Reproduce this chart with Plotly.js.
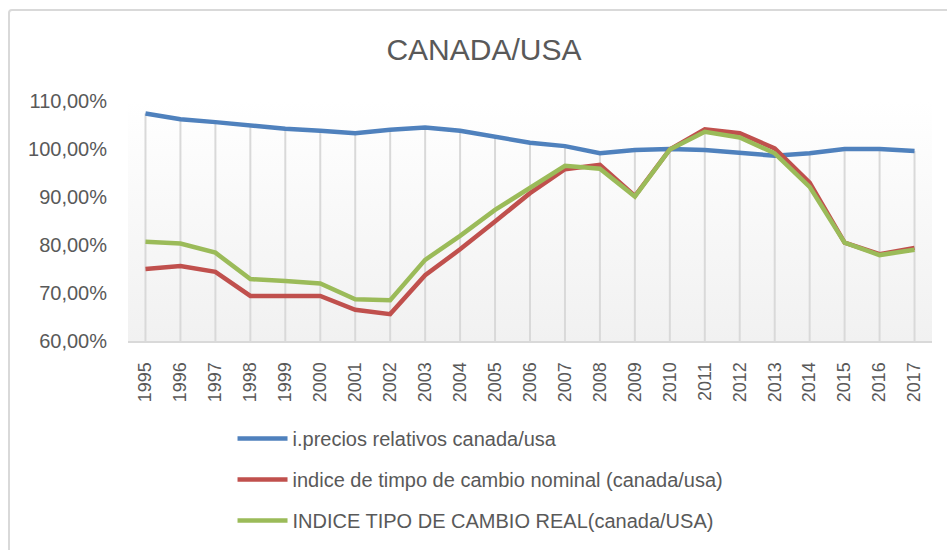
<!DOCTYPE html>
<html>
<head>
<meta charset="utf-8">
<script src="https://cdn.plot.ly/plotly-3.0.1.min.js"></script>
<style>
  html, body { margin: 0; padding: 0; background: #ffffff; width: 947px; height: 550px; overflow: hidden; }
  #frame { position: absolute; left: 8px; top: 9px; width: 1000px; height: 600px; border: 2px solid #d9d9d9; border-radius: 4px; box-sizing: border-box; }
  #plotbg { position: absolute; left: 128px; top: 101px; width: 804px; height: 240px; background: linear-gradient(to bottom, #ffffff 0%, #f1f1f1 100%); }
  #chart { position: absolute; left: 0; top: 0; width: 947px; height: 600px; }
</style>
</head>
<body>
<div id="frame"></div>
<div id="plotbg"></div>
<div id="chart"></div>
<script>
const years = ["1995","1996","1997","1998","1999","2000","2001","2002","2003","2004","2005","2006","2007","2008","2009","2010","2011","2012","2013","2014","2015","2016","2017"];
const preciosRelativos = [107.4,106.2,105.6,104.8,104.2,103.8,103.3,104.0,104.5,103.8,102.6,101.3,100.6,99.1,99.8,100.0,99.8,99.3,98.6,99.1,100.0,100.0,99.6];
const cambioNominal = [75.0,75.6,74.4,69.4,69.4,69.4,66.5,65.6,73.7,79.1,84.9,90.8,95.8,96.7,90.2,99.9,104.1,103.3,100.1,93.0,80.5,78.1,79.4];
const cambioReal = [80.7,80.3,78.4,72.9,72.5,72.0,68.7,68.5,76.9,81.9,87.3,91.8,96.5,95.9,90.1,99.9,103.6,102.4,99.1,92.1,80.5,77.9,79.0];
const seriesNames = ["i.precios relativos canada/usa","indice de timpo de cambio nominal (canada/usa)","INDICE TIPO DE CAMBIO REAL(canada/USA)"];
const yTickVals = [60,70,80,90,100,110];
const yTickText = ["60,00%","70,00%","80,00%","90,00%","100,00%","110,00%"];

// drop lines: from highest series value down to the axis minimum
const dropX = [], dropY = [];
years.forEach((yr, i) => {
  const top = Math.max(preciosRelativos[i], cambioNominal[i], cambioReal[i]);
  dropX.push(yr, yr, null);
  dropY.push(yTickVals[0], top, null);
});

const textColor = "#595959";
const font = "Liberation Sans, Arial, sans-serif";

const traces = [
  { x: dropX, y: dropY, type: "scatter", mode: "lines", line: { color: "#d9d9d9", width: 2 }, showlegend: false, hoverinfo: "skip" },
  { x: years, y: preciosRelativos, name: seriesNames[0], type: "scatter", mode: "lines", line: { color: "#4f81bd", width: 4.5 }, legendgroup: "a" },
  { x: years, y: cambioNominal, name: seriesNames[1], type: "scatter", mode: "lines", line: { color: "#c0504d", width: 4.5 }, legendgroup: "b" },
  { x: years, y: cambioReal, name: seriesNames[2], type: "scatter", mode: "lines", line: { color: "#9bbb59", width: 4.5 }, legendgroup: "c" }
];

const layout = {
  width: 947, height: 600,
  margin: { l: 128, r: 15, t: 101, b: 259 },
  paper_bgcolor: "rgba(0,0,0,0)",
  plot_bgcolor: "rgba(0,0,0,0)",
  font: { family: font, color: textColor, size: 18 },
  title: { text: "CANADA/USA", x: 0.511, xref: "container", xanchor: "center", y: 0.9167, yanchor: "middle", yref: "container", font: { size: 30, color: textColor, family: font } },
  xaxis: {
    type: "category", range: [-0.5, 22.5], tickangle: -90, showgrid: false, zeroline: false,
    showline: true, linecolor: "#d9d9d9", linewidth: 2, ticks: "", ticklabelstandoff: 12,
    tickfont: { size: 18, color: textColor }
  },
  yaxis: {
    range: [60, 110], tickvals: yTickVals, ticktext: yTickText, showgrid: false, zeroline: false,
    showline: false, ticks: "", ticklabelstandoff: 20, tickfont: { size: 20, color: textColor }
  },
  showlegend: true,
  legend: {
    orientation: "v", x: 0.13, xanchor: "left", y: -0.325, yanchor: "top",
    font: { size: 20, color: textColor }, tracegroupgap: 12, itemwidth: 50, bgcolor: "rgba(0,0,0,0)"
  },
  hovermode: false
};

Plotly.newPlot("chart", traces, layout, { displayModeBar: false, staticPlot: true });
</script>
</body>
</html>
